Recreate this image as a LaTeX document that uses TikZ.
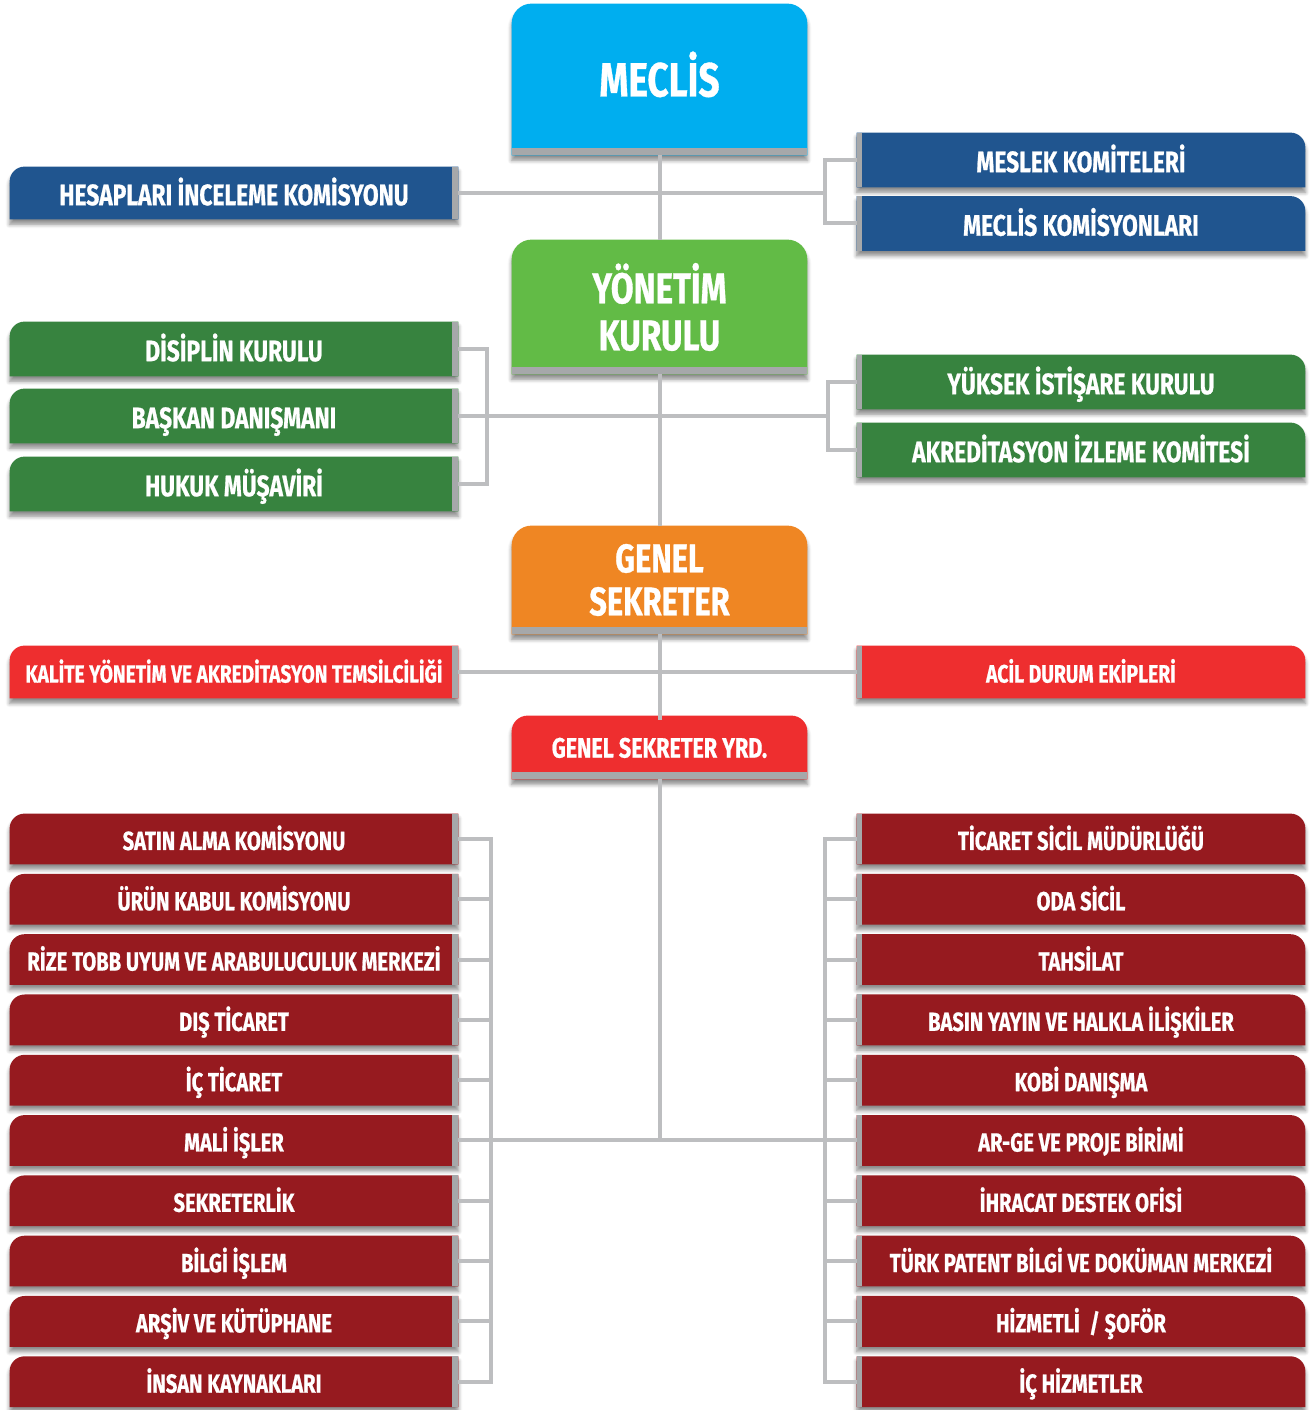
\documentclass[tikz,border=0pt]{standalone}
\usepackage{fontspec}
\setmainfont{Fira Sans}[FakeStretch=0.77, BoldFeatures={FakeBold=0.7}]
\usetikzlibrary{positioning,backgrounds,shadows.blur}

\definecolor{meclismavi}{HTML}{00AEEF}
\definecolor{kurulmavi}{HTML}{20558F}
\definecolor{acikyesil}{HTML}{62BB46}
\definecolor{koyuyesil}{HTML}{37833F}
\definecolor{turuncu}{HTML}{EF8623}
\definecolor{kirmizi}{HTML}{EE2E2F}
\definecolor{bordo}{HTML}{961A1F}
\definecolor{cubukgri}{HTML}{A6A8AA}
\definecolor{hatgri}{HTML}{BDBEC0}

\tikzset{
  cizgi/.style={draw=hatgri, line width=2pt},
  golge/.style={blur shadow={shadow xshift=0pt, shadow yshift=-2.5pt,
      shadow blur radius=2pt, shadow blur steps=6, shadow opacity=45}},
  cubuk/.style={fill=cubukgri},
  kutu/.style={inner sep=0pt, text=white, align=center},
  teksatir/.style={text height=#1, text depth=0pt},
  yankutu/.style={kutu, teksatir=12.2pt, minimum width=224pt, minimum height=#1,
      font=\bfseries\fontsize{14.8}{16}\selectfont},
  altkutu/.style={kutu, teksatir=11pt, minimum width=224pt, minimum height=25pt,
      font=\bfseries\fontsize{13.1}{15}\selectfont},
  ortakutu/.style={kutu, minimum width=147.5pt, minimum height=#1},
}

% sol kutu: sol ust kose yuvarlak, sagda gri cubuk
\newcommand\solsekil[2]{%
  \fill[#2, golge] (#1.south west) -- ([yshift=-7.5pt]#1.north west)
    arc[start angle=180, end angle=90, radius=7.5pt] -- (#1.north east)
    -- (#1.south east) -- cycle;
  \fill[cubuk] ([xshift=-3pt]#1.south east) rectangle (#1.north east);
}
% sag kutu: sag ust kose yuvarlak, solda gri cubuk
\newcommand\sagsekil[2]{%
  \fill[#2, golge] (#1.south west) -- (#1.north west)
    -- ([xshift=-7.5pt]#1.north east)
    arc[start angle=90, end angle=0, radius=7.5pt] -- (#1.south east) -- cycle;
  \fill[cubuk] (#1.south west) rectangle ([xshift=2.5pt]#1.north west);
}
% orta kutu: iki ust kose yuvarlak, altta gri cubuk
\newcommand\ortasekil[3]{%
  \fill[#2, golge] (#1.south west) -- ([yshift=-#3]#1.north west)
    arc[start angle=180, end angle=90, radius=#3]
    -- ([xshift=-#3]#1.north east)
    arc[start angle=90, end angle=0, radius=#3] -- (#1.south east) -- cycle;
  \fill[cubuk] (#1.south west) rectangle ([yshift=3.5pt]#1.south east);
}

\begin{document}
\begin{tikzpicture}[x=0.5pt, y=0.5pt]
\useasboundingbox (0,0) rectangle (1310,1410);

% ana kademe
\node[ortakutu=75.5pt, teksatir=17pt, font=\bfseries\fontsize{24}{26}\selectfont] (meclis) at (659.5,1330.5) {MECLİS};
\node[ortakutu=67pt, font=\bfseries\fontsize{21.5}{23.5}\selectfont] (yonetim) at (659.5,1103) {YÖNETİM\\KURULU};
\node[ortakutu=54pt, font=\bfseries\fontsize{20}{21.5}\selectfont] (genel) at (659.5,830) {GENEL\\SEKRETER};
\node[ortakutu=31.5pt, teksatir=10.1pt, font=\bfseries\fontsize{14}{16}\selectfont] (yrd) at (659.5,662.5) {GENEL SEKRETER YRD.};

% meclis kolu
\node[yankutu=26pt] (hesap) at (234,1217) {HESAPLARI İNCELEME KOMİSYONU};
\node[yankutu=27pt] (meslek) at (1081,1250) {MESLEK KOMİTELERİ};
\node[yankutu=27pt] (komisyon) at (1081,1186.5) {MECLİS KOMİSYONLARI};

% yonetim kurulu kolu
\node[yankutu=27pt] (disiplin) at (234,1061) {DİSİPLİN KURULU};
\node[yankutu=27pt] (baskan) at (234,994) {BAŞKAN DANIŞMANI};
\node[yankutu=27pt] (hukuk) at (234,926) {HUKUK MÜŞAVİRİ};
\node[yankutu=27pt] (yuksek) at (1081,1028) {YÜKSEK İSTİŞARE KURULU};
\node[yankutu=27pt] (akredi) at (1081,960) {AKREDİTASYON İZLEME KOMİTESİ};

% genel sekreter kolu
\node[yankutu=26pt, teksatir=10.6pt, font=\bfseries\fontsize{12.4}{14}\selectfont] (kalite) at (234,738) {KALİTE YÖNETİM VE AKREDİTASYON TEMSİLCİLİĞİ};
\node[yankutu=26pt, teksatir=10.6pt, font=\bfseries\fontsize{12.6}{14}\selectfont] (acil) at (1081,738) {ACİL DURUM EKİPLERİ};

% birimler
\foreach \ad [count=\i] in {SATIN ALMA KOMİSYONU, ÜRÜN KABUL KOMİSYONU,
    RİZE TOBB UYUM VE ARABULUCULUK MERKEZİ, DIŞ TİCARET, İÇ TİCARET,
    MALİ İŞLER, SEKRETERLİK, BİLGİ İŞLEM, ARŞİV VE KÜTÜPHANE, İNSAN KAYNAKLARI}
  \node[altkutu] (s\i) at (234,{631.3-60.3*\i}) {\ad};
\foreach \ad [count=\i] in {TİCARET SİCİL MÜDÜRLÜĞÜ, ODA SİCİL, TAHSİLAT,
    BASIN YAYIN VE HALKLA İLİŞKİLER, KOBİ DANIŞMA, AR-GE VE PROJE BİRİMİ,
    İHRACAT DESTEK OFİSİ, TÜRK PATENT BİLGİ VE DOKÜMAN MERKEZİ,
    HİZMETLİ~ / ŞOFÖR, İÇ HİZMETLER}
  \node[altkutu] (r\i) at (1081,{631.3-60.3*\i}) {\ad};

\begin{scope}[on background layer]
  \ortasekil{meclis}{meclismavi}{10pt}
  \ortasekil{yonetim}{acikyesil}{10pt}
  \ortasekil{genel}{turuncu}{10pt}
  \ortasekil{yrd}{kirmizi}{8pt}
  \solsekil{hesap}{kurulmavi}
  \sagsekil{meslek}{kurulmavi}
  \sagsekil{komisyon}{kurulmavi}
  \solsekil{disiplin}{koyuyesil}
  \solsekil{baskan}{koyuyesil}
  \solsekil{hukuk}{koyuyesil}
  \sagsekil{yuksek}{koyuyesil}
  \sagsekil{akredi}{koyuyesil}
  \solsekil{kalite}{kirmizi}
  \sagsekil{acil}{kirmizi}
  \foreach \i in {1,...,10} {\solsekil{s\i}{bordo} \sagsekil{r\i}{bordo}}
\end{scope}

% baglantilar
\coordinate (mk) at (825,0);
\coordinate (ysol) at (487,0);
\coordinate (ysag) at (828,0);
\coordinate (bsol) at (491,0);
\coordinate (bsag) at (825,0);

\draw[cizgi] (meclis) -- (yonetim);
\draw[cizgi] (yonetim) -- (genel);
\draw[cizgi] (genel.south) -- ([yshift=-2pt]yrd.north);
\draw[cizgi] (yrd.south) -- (yrd.south |- s6);

\draw[cizgi] (hesap.east) -- (hesap.east -| mk);
\draw[cizgi] (meslek.west) -- (meslek.west -| mk) -- (komisyon.west -| mk) -- (komisyon.west);

\draw[cizgi] (disiplin.east) -- (disiplin.east -| ysol) -- (hukuk.east -| ysol) -- (hukuk.east);
\draw[cizgi] (baskan.east) -- (baskan.east -| ysag);
\draw[cizgi] (yuksek.west) -- (yuksek.west -| ysag) -- (akredi.west -| ysag) -- (akredi.west);

\draw[cizgi] (kalite) -- (acil);

\draw[cizgi] (s1.east) -- (s1.east -| bsol) -- (s10.east -| bsol) -- (s10.east);
\draw[cizgi] (r1.west) -- (r1.west -| bsag) -- (r10.west -| bsag) -- (r10.west);
\foreach \i in {2,...,9} {
  \draw[cizgi] (s\i.east) -- (s\i.east -| bsol);
  \draw[cizgi] (r\i.west) -- (r\i.west -| bsag);
}
\draw[cizgi] (s6.east -| bsol) -- (r6.west -| bsag);
\end{tikzpicture}
\end{document}
